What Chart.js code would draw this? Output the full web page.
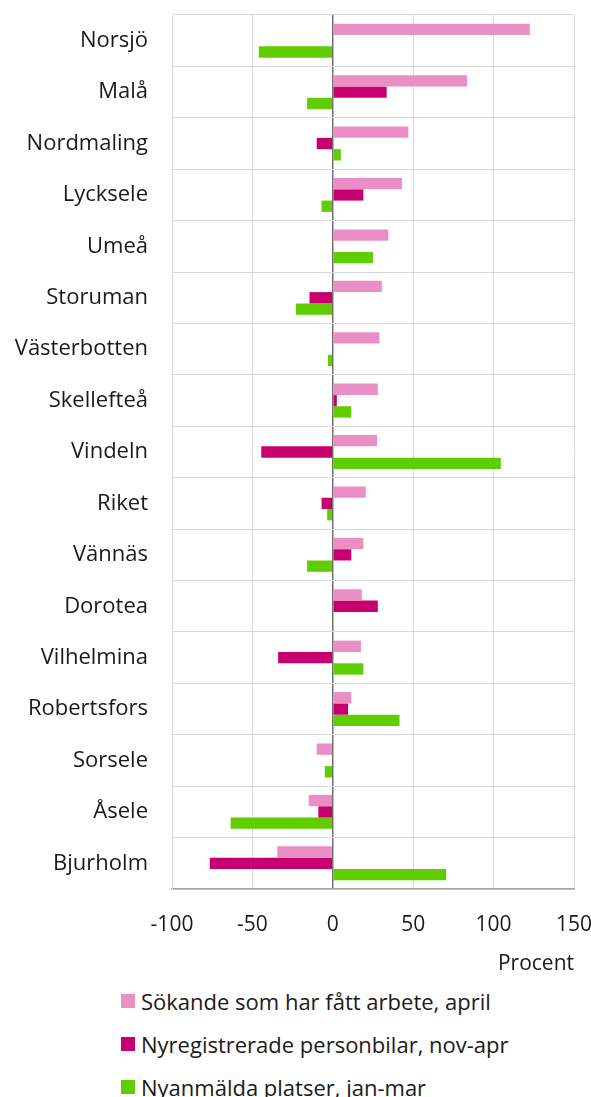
<!DOCTYPE html>
<html>
<head>
<meta charset="utf-8">
<script src="https://cdn.jsdelivr.net/npm/chart.js@4"></script>
<style>
  body { margin: 0; background: #fff; font-family: "Open Sans", sans-serif; }
  #wrap { width: 591px; height: 977px; position: relative; }
  #legend { list-style: none; margin: 0; padding: 2px 0 0 121px; }
  #legend li { display: flex; align-items: center; height: 43px; font-size: 22px; color: #1a1a1a; }
  #legend span { display: inline-block; width: 14px; height: 14px; margin-right: 6px; }
</style>
</head>
<body>
<div id="wrap"><canvas id="chart"></canvas></div>
<ul id="legend"></ul>
<script>
const regions = ['Norsjö', 'Malå', 'Nordmaling', 'Lycksele', 'Umeå', 'Storuman', 'Västerbotten',
  'Skellefteå', 'Vindeln', 'Riket', 'Vännäs', 'Dorotea', 'Vilhelmina', 'Robertsfors',
  'Sorsele', 'Åsele', 'Bjurholm'];

// procent
const sokande = [122.5, 83.5, 47, 43, 34.5, 30.5, 29, 28, 27.5, 20.5, 19, 18, 17.5, 11.5, -10, -15, -34.5];
const personbilar = [0, 33.5, -10, 19, 0, -14.5, 0, 2.5, -44.5, -7, 11.5, 28, -34, 9.5, 0, -9, -76.5];
const platser = [-46, -16, 5, -7, 25, -23, -3, 11.5, 104.5, -3.5, -16, 0, 19, 41.5, -5, -63.5, 70.5];

const xTicks = [-100, -50, 0, 50, 100, 150];

const ctx = document.getElementById('chart').getContext('2d');
const chart = new Chart(ctx, {
  type: 'bar',
  data: {
    labels: regions,
    datasets: [
      { label: 'Sökande som har fått arbete, april', data: sokande, backgroundColor: '#ec8ec6' },
      { label: 'Nyregistrerade personbilar, nov-apr', data: personbilar, backgroundColor: '#c8006f' },
      { label: 'Nyanmälda platser, jan-mar', data: platser, backgroundColor: '#60cd00' },
    ],
  },
  options: {
    indexAxis: 'y',
    responsive: true,
    maintainAspectRatio: false,
    animation: false,
    layout: { padding: { top: 15, right: 17, left: 0, bottom: 0 } },
    datasets: { bar: { categoryPercentage: 0.66, barPercentage: 1 } },
    plugins: { legend: { display: false }, tooltip: { enabled: false } },
    scales: {
      x: {
        min: -100,
        max: 150,
        afterBuildTicks: (axis) => { axis.ticks = xTicks.map(v => ({ value: v })); },
        afterFit: (axis) => {
          axis.height = 88;
          axis.paddingLeft = 0;
          axis.paddingRight = 0;
        },
        grid: {
          color: (c) => c.tick && c.tick.value === 0 ? '#707070' : '#d9d9d9',
          lineWidth: (c) => c.tick && c.tick.value === 0 ? 1.5 : 1,
          drawTicks: false,
        },
        border: { color: '#a6a6a6', width: 1.5 },
        ticks: { padding: 23, color: '#1a1a1a', font: { family: 'Open Sans', size: 21 } },
        title: {
          display: true, text: 'Procent', align: 'end', color: '#1a1a1a',
          font: { family: 'Open Sans', size: 21 }, padding: { top: 2, bottom: 0 },
        },
      },
      y: {
        afterFit: (axis) => {
          axis.width = 172;
          axis.paddingTop = 0;
          axis.paddingBottom = 0;
        },
        grid: { color: '#d9d9d9', drawTicks: false },
        border: { color: '#d9d9d9' },
        ticks: { padding: 24, color: '#1a1a1a', font: { family: 'Open Sans', size: 22 } },
      },
    },
  },
});

// legend built from the chart's datasets
const legend = document.getElementById('legend');
chart.data.datasets.forEach(ds => {
  const li = document.createElement('li');
  const sw = document.createElement('span');
  sw.style.background = ds.backgroundColor;
  li.appendChild(sw);
  li.appendChild(document.createTextNode(ds.label));
  legend.appendChild(li);
});
</script>
</body>
</html>
